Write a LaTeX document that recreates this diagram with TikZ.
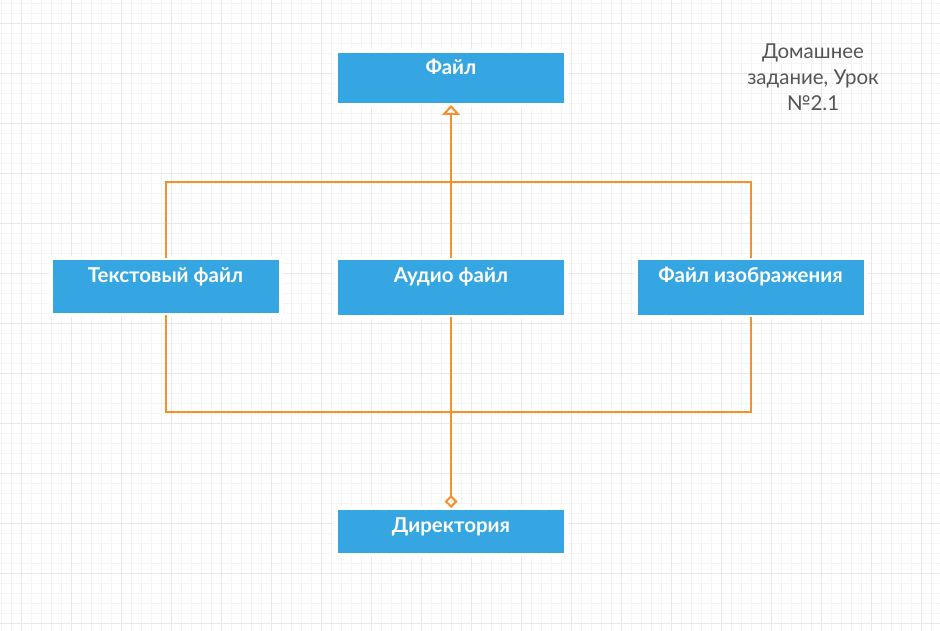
\documentclass[tikz,border=0pt]{standalone}
\usepackage{fontspec}
\setmainfont{Lato}
\usetikzlibrary{arrows.meta,positioning,calc}
\definecolor{boxblue}{RGB}{53,166,226}
\definecolor{linkorange}{RGB}{245,145,40}
\definecolor{notegray}{RGB}{85,85,85}
\definecolor{gridminor}{RGB}{244,244,244}
\definecolor{gridmajor}{RGB}{233,233,233}
\tikzset{
  classbox/.style={fill=boxblue,draw=white,line width=4pt,inner xsep=0pt,inner ysep=0pt,outer sep=0pt,
    minimum width=230pt,text=white,font=\fontsize{20.5}{22}\selectfont\bfseries,text height=24pt},
  link/.style={draw=linkorange,line width=2pt},
}
\begin{document}
\begin{tikzpicture}[x=1pt,y=-1pt]
\useasboundingbox (0,0) rectangle (940,631);
\fill[white] (0,0) rectangle (940,631);
% background grid
\draw[gridminor,line width=0.7pt,shift={(1,3)}] (-1,-3) grid[step=10pt] (940,631);
\draw[gridmajor,line width=0.7pt,shift={(21,23)}] (-21,-23) grid[step=50pt] (940,631);
% classes
\node[classbox,anchor=north,text depth=30pt] (file) at (451,51) {Файл};
\node[classbox,anchor=north,text depth=33pt] (txt) at (165.5,258) {Текстовый файл};
\node[classbox,anchor=north,text depth=35pt] (aud) at (451,258) {Аудио файл};
\node[classbox,anchor=north,text depth=35pt] (img) at (750.5,258) {Файл изображения};
\node[classbox,anchor=north,text depth=23pt] (dir) at (451,508) {Директория};
\coordinate (top) at (451,182);
\coordinate (bar) at (451,412);
% inheritance
\draw[link] (txt.north) |- (top) -| (img.north);
\draw[link,-{Triangle[open,length=10pt,width=18pt]}] (aud.north) -- (file.south);
% aggregation
\draw[link] (txt.south) |- (bar) -| (img.south);
\draw[link,-{Diamond[open,length=13pt,width=13pt]}] (aud.south) -- (dir.north);
\node[anchor=base,align=center,text=notegray,font=\fontsize{20.5}{26}\selectfont] (note) at (813,111)
  {Домашнее\\задание, Урок\\№2.1};
\end{tikzpicture}
\end{document}
